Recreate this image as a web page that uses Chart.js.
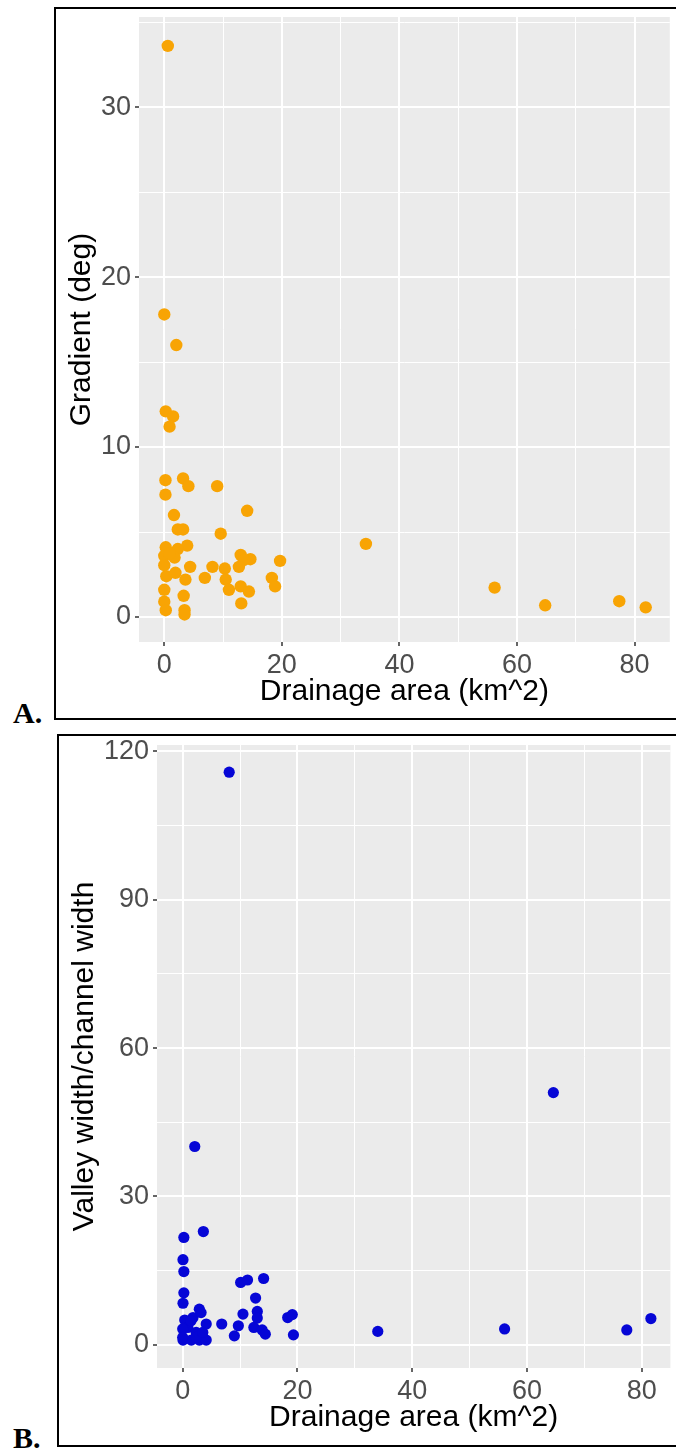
<!DOCTYPE html>
<html>
<head>
<meta charset="utf-8">
<script src="https://cdn.jsdelivr.net/npm/chart.js@4.4.1/dist/chart.umd.min.js"></script>
<style>
  body { margin: 0; width: 676px; height: 1450px; overflow: hidden; background: #fff; position: relative; }
  .frame { position: absolute; box-sizing: border-box; border: 2px solid #000; border-right: none; width: 700px; height: 713px; }
  .panel { position: absolute; }
  .tag { position: absolute; left: 13px; font: bold 30px/30px "Liberation Serif", "Times New Roman", serif; color: #000; }
</style>
</head>
<body>
<div class="frame" style="left:54px; top:7px;"></div>
<div class="panel" style="left:56px; top:9px; width:620px; height:709px;"><canvas id="chartA"></canvas></div>
<div class="tag" style="top:698px;">A.</div>

<div class="frame" style="left:57px; top:734px;"></div>
<div class="panel" style="left:59px; top:736px; width:617px; height:709px;"><canvas id="chartB"></canvas></div>
<div class="tag" style="top:1423px;">B.</div>

<script>
// Panel A: drainage area (km^2) vs gradient (deg)
const areaA = [0.6, 0.0, 2.05, 0.25, 1.5, 0.9, 0.2, 3.2, 4.1, 9.0, 0.2, 14.1, 1.65, 2.3, 3.2, 9.6, 0.25, 3.9,
  2.3, 0.0, 1.75, 13.0, 14.65, 13.5, 19.7, 4.4, 8.2, 10.3, 12.7, 0.35, 1.9, 3.6, 6.9, 10.45, 18.3, 18.85,
  0.0, 3.3, 11.0, 13.0, 14.4, 13.1, 0.0, 0.25, 3.45, 3.45, 0.0, 0.9, 34.3, 56.2, 64.8, 77.4, 81.9];
const gradient = [33.6, 17.8, 16.0, 12.1, 11.8, 11.2, 8.05, 8.15, 7.7, 7.7, 7.2, 6.25, 6.0, 5.15, 5.15, 4.9, 4.1, 4.2,
  4.0, 3.6, 3.5, 3.65, 3.4, 3.35, 3.3, 2.95, 2.95, 2.85, 2.95, 2.4, 2.6, 2.2, 2.3, 2.2, 2.3, 1.8,
  1.6, 1.25, 1.6, 1.8, 1.5, 0.8, 0.9, 0.4, 0.4, 0.15, 3.05, 3.75, 4.3, 1.73, 0.69, 0.93, 0.57];

// Panel B: drainage area (km^2) vs valley width / channel width
const areaB = [8.1, 2.1, 0.2, 3.6, 0.05, 0.2, 0.2, 0.05, 10.1, 11.3, 14.1, 12.7, 2.9, 13.0, 10.5, 18.3, 19.1, 6.8, 9.7,
  13.0, 12.4, 13.85, 14.4, 9.0, 19.3, 0.35, 1.8, 3.2, 4.1, 0.9, 2.35, 0.05, 1.5, 2.9, 4.1, 2.35, 0.0,
  3.5, 1.45, 0.0, 34.0, 56.1, 64.6, 77.4, 81.6];
const widthRatio = [115.8, 40.1, 21.7, 22.9, 17.2, 14.8, 10.5, 8.4, 12.6, 13.1, 13.4, 9.45, 7.2, 6.75, 6.2, 5.5, 6.1, 4.2, 3.85,
  5.4, 3.5, 3.0, 2.15, 1.8, 2.0, 5.0, 5.5, 6.5, 4.2, 3.5, 2.5, 0.95, 0.95, 0.95, 0.95, 1.5, 3.2,
  2.5, 4.85, 1.5, 2.7, 3.2, 51.0, 3.0, 5.3];

// axis breaks (major ones get labels)
const xBreaks = [0, 10, 20, 30, 40, 50, 60, 70, 80];
const xLabels = [0, 20, 40, 60, 80];
const yBreaksA = [0, 5, 10, 15, 20, 25, 30, 35];
const yLabelsA = [0, 10, 20, 30];
const yBreaksB = [0, 15, 30, 45, 60, 75, 90, 105, 120];
const yLabelsB = [0, 30, 60, 90, 120];

const FONT = '"Liberation Sans", Arial, sans-serif';

// grey ggplot panel behind the grid
const panelBg = {
  id: 'panelBg',
  beforeDraw(chart) {
    const a = chart.chartArea;
    const ctx = chart.ctx;
    ctx.save();
    ctx.fillStyle = '#ebebeb';
    ctx.fillRect(a.left, a.top, a.right - a.left, a.bottom - a.top);
    ctx.restore();
  }
};

function axis(breaks, labels, min, max, title, size, tickPad, titlePad) {
  const isMajor = c => c.tick && labels.includes(c.tick.value);
  return {
    type: 'linear',
    min: min,
    max: max,
    afterBuildTicks: s => { s.ticks = breaks.map(v => ({ value: v })); },
    afterFit: s => {
      if (s.isHorizontal()) s.height = size; else s.width = size;
      s.paddingTop = 0; s.paddingBottom = 0; s.paddingLeft = 0; s.paddingRight = 0;
    },
    border: { display: false },
    grid: {
      color: '#ffffff',
      lineWidth: c => isMajor(c) ? 2 : 1,
      drawTicks: true,
      tickLength: 4,
      tickWidth: 1.5,
      tickColor: c => isMajor(c) ? '#333333' : 'rgba(0,0,0,0)'
    },
    ticks: {
      autoSkip: false,
      maxRotation: 0,
      padding: tickPad,
      color: '#4d4d4d',
      font: { family: FONT, size: 27 },
      callback: v => labels.includes(v) ? String(v) : ''
    },
    title: {
      display: true,
      text: title,
      color: '#000',
      font: { family: FONT, size: 30 },
      padding: titlePad
    }
  };
}

function scatter(id, xs, ys, color, radius, opts) {
  const pts = xs.map((x, i) => ({ x: x, y: ys[i] }));
  return new Chart(document.getElementById(id), {
    type: 'scatter',
    data: {
      datasets: [{
        data: pts,
        backgroundColor: color,
        borderColor: color,
        borderWidth: 0,
        pointRadius: radius,
        pointHoverRadius: radius
      }]
    },
    options: {
      animation: false,
      responsive: true,
      maintainAspectRatio: false,
      layout: { padding: { top: opts.padTop, left: 0, right: 0, bottom: 0 } },
      plugins: { legend: { display: false }, tooltip: { enabled: false } },
      scales: {
        x: axis(xBreaks, xLabels, opts.xMin, opts.xMax, 'Drainage area (km^2)', opts.xSize, 3, { top: 0, bottom: opts.xTitlePad }),
        y: axis(opts.yBreaks, opts.yLabels, opts.yMin, opts.yMax, opts.yTitle, opts.ySize, 4, { top: 8, bottom: 0 })
      }
    },
    plugins: [panelBg]
  });
}

scatter('chartA', areaA, gradient, '#f8a404', 6.2, {
  padTop: 8, xMin: -4.3, xMax: 86, xSize: 76, xTitlePad: 8,
  yMin: -1.47, yMax: 35.3, ySize: 83, yTitle: 'Gradient (deg)',
  yBreaks: yBreaksA, yLabels: yLabelsA
});

scatter('chartB', areaB, widthRatio, '#0606d6', 5.6, {
  padTop: 9, xMin: -4.48, xMax: 85, xSize: 77, xTitlePad: 9,
  yMin: -4.7, yMax: 121.3, ySize: 98, yTitle: 'Valley width/channel width',
  yBreaks: yBreaksB, yLabels: yLabelsB
});
</script>
</body>
</html>
